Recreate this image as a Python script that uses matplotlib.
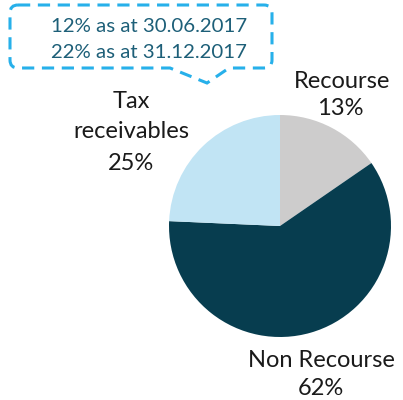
import matplotlib
matplotlib.use("Agg")
import matplotlib.pyplot as plt
from matplotlib.path import Path
from matplotlib.patches import PathPatch

# Data
categories = ["Recourse", "Non Recourse", "Tax receivables"]
slice_values = [15.4, 60.3, 24.3]          # slice sizes as drawn
label_pcts = ["13%", "62%", "25%"]          # percentages as printed
colors = ["#cdcccc", "#073d4f", "#c1e4f4"]
callout_lines = ["12% as at 30.06.2017", "22% as at 31.12.2017"]

W, H = 403, 400
fig = plt.figure(figsize=(W / 100, H / 100), dpi=100)
ax = fig.add_axes([0, 0, 1, 1])

def Y(y):
    return H - y

FONT = "Lato"
FS = 17
FS_CALL = 14.7

ax.pie(slice_values, colors=colors, startangle=90, counterclock=False,
       center=(280, Y(226)), radius=111, frame=True,
       wedgeprops=dict(linewidth=0))
ax.set_xlim(0, W)
ax.set_ylim(0, H)
ax.set_aspect("auto")
ax.axis("off")

def put(x, y, s, fs=FS, color="#1a1a1a"):
    ax.text(x, Y(y), s, ha="center", va="baseline", fontsize=fs,
            family=FONT, color=color)

# Labels
put(342, 88, categories[0])
put(340, 115, label_pcts[0])
put(321, 367, categories[1])
put(321, 395, label_pcts[1])
tax_words = categories[2].split(" ")
put(131, 108, tax_words[0])
put(131, 138, tax_words[1])
put(131, 170, label_pcts[2])

# Callout box
pts = [
    ((18, 5), Path.MOVETO),
    ((264, 5), Path.LINETO),
    ((272, 5), Path.CURVE3), ((272, 13), Path.CURVE3),
    ((272, 60), Path.LINETO),
    ((272, 68), Path.CURVE3), ((264, 68), Path.CURVE3),
    ((229, 68), Path.LINETO),
    ((207, 83), Path.LINETO),
    ((170, 68), Path.LINETO),
    ((18, 68), Path.LINETO),
    ((10, 68), Path.CURVE3), ((10, 60), Path.CURVE3),
    ((10, 13), Path.LINETO),
    ((10, 5), Path.CURVE3), ((18, 5), Path.CURVE3),
]
verts = [(x, Y(y)) for (x, y), _ in pts]
codes = [c for _, c in pts]
patch = PathPatch(Path(verts, codes), facecolor="white", edgecolor="#27b0ea",
                  linewidth=2.2, linestyle=(0, (4, 2.5)), capstyle="butt")
ax.add_patch(patch)

put(149, 32, callout_lines[0], fs=FS_CALL, color="#1d5f78")
put(149, 58, callout_lines[1], fs=FS_CALL, color="#1d5f78")

fig.savefig("out.png", dpi=100)
